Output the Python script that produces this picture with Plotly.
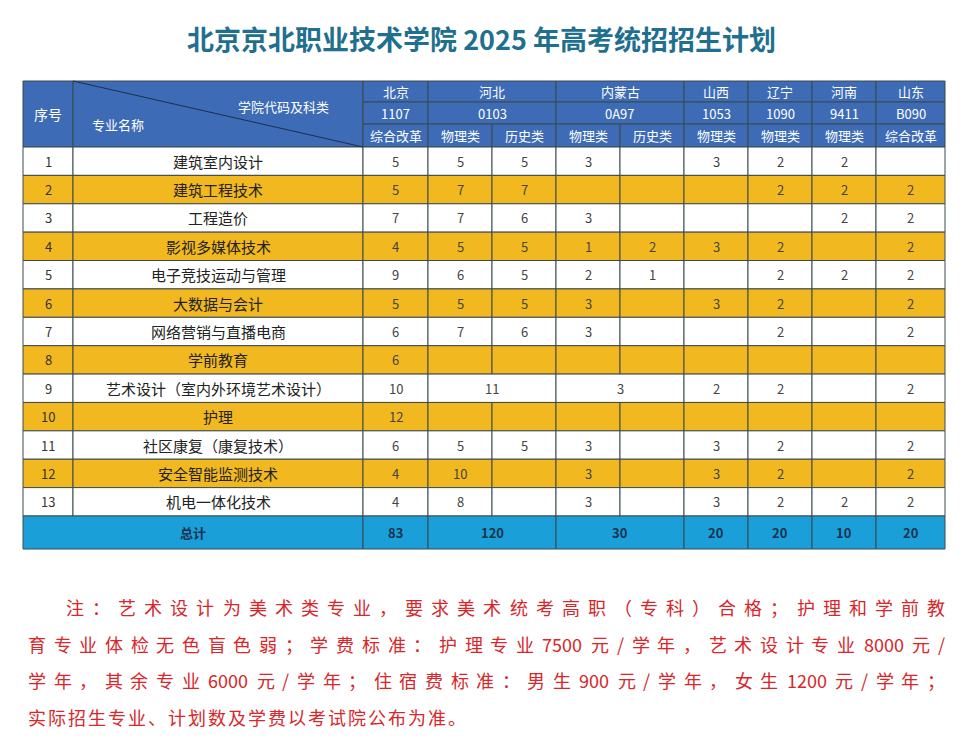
import plotly.graph_objects as go

title = "北京京北职业技术学院 2025 年高考统招招生计划"
provinces = ["北京", "河北", "内蒙古", "山西", "辽宁", "河南", "山东"]
codes = ["1107", "0103", "0A97", "1053", "1090", "9411", "B090"]
prov_spans = [1, 2, 2, 1, 1, 1, 1]
subjects = ["综合改革", "物理类", "历史类", "物理类", "历史类", "物理类", "物理类", "物理类", "综合改革"]
majors = ["建筑室内设计", "建筑工程技术", "工程造价", "影视多媒体技术", "电子竞技运动与管理",
          "大数据与会计", "网络营销与直播电商", "学前教育", "艺术设计（室内外环境艺术设计）",
          "护理", "社区康复（康复技术）", "安全智能监测技术", "机电一体化技术"]
values = [
    ["5", "5", "5", "3", "", "3", "2", "2", ""],
    ["5", "7", "7", "", "", "", "2", "2", "2"],
    ["7", "7", "6", "3", "", "", "", "2", "2"],
    ["4", "5", "5", "1", "2", "3", "2", "", "2"],
    ["9", "6", "5", "2", "1", "", "2", "2", "2"],
    ["5", "5", "5", "3", "", "3", "2", "", "2"],
    ["6", "7", "6", "3", "", "", "2", "", "2"],
    ["6", "", "", "", "", "", "", "", ""],
    ["10", "11", None, "3", None, "2", "2", "", "2"],
    ["12", "", "", "", "", "", "", "", ""],
    ["6", "5", "5", "3", "", "3", "2", "", "2"],
    ["4", "10", "", "3", "", "3", "2", "", "2"],
    ["4", "8", "", "3", "", "3", "2", "2", "2"],
]
totals = ["83", "120", None, "30", None, "20", "20", "10", "20"]
note_lines = [
    "注： 艺术设计为美术类专业， 要求美术统考高职 （专科） 合格； 护理和学前教",
    "育专业体检无色盲色弱； 学费标准： 护理专业 7500 元 / 学年， 艺术设计专业 8000 元 /",
    "学年， 其余专业 6000 元 / 学年；住宿费标准：男生 900 元 / 学年， 女生 1200 元 / 学年；",
    "实际招生专业、 计划数及学费以考试院公布为准。",
]

W, H = 969, 755
OFF = 8  # page body margin compensation
xb = [23, 73, 363, 428, 492, 556, 620, 684, 748, 812, 876, 945]
hy = [81, 102, 124, 147]
rh = (516 - 147) / 13
FONT = "Noto Sans CJK SC"
HEAD, ORANGE, TOT, BORDER = "#3d6bb5", "#f2b81f", "#1a9fd9", "#3a4a50"

fig = go.Figure()
shapes, ann = [], []

def cell(x0, x1, y0, y1, fill, text=None, color="#222", size=14, bold=False):
    shapes.append(dict(type="rect", x0=x0, x1=x1, y0=y0, y1=y1, fillcolor=fill,
                       line=dict(color=BORDER, width=1), layer="below"))
    if text:
        ann.append(dict(x=(x0 + x1) / 2, y=(y0 + y1) / 2, text=("<b>%s</b>" % text) if bold else text,
                        showarrow=False, font=dict(family=FONT, size=size, color=color)))

cell(xb[0], xb[1], hy[0], hy[3], HEAD, "序号", "white", 14)
cell(xb[1], xb[2], hy[0], hy[3], HEAD)
shapes.append(dict(type="line", x0=xb[1], y0=hy[0], x1=xb[2], y1=hy[3], line=dict(color="#1c2e50", width=1)))
ann.append(dict(x=283, y=106, text="学院代码及科类", showarrow=False, font=dict(family=FONT, size=13, color="white")))
ann.append(dict(x=118, y=124, text="专业名称", showarrow=False, font=dict(family=FONT, size=13, color="white")))
c = 2
for p, cd, sp in zip(provinces, codes, prov_spans):
    cell(xb[c], xb[c + sp], hy[0], hy[1], HEAD, p, "white", 13)
    cell(xb[c], xb[c + sp], hy[1], hy[2], HEAD, cd, "white", 13)
    c += sp
for i, s in enumerate(subjects):
    cell(xb[2 + i], xb[3 + i], hy[2], hy[3], HEAD, s, "white", 13)

def row(y0, y1, fill, cells_vals, color, size, bold):
    i = 0
    while i < len(cells_vals):
        span = 1
        while i + span < len(cells_vals) and cells_vals[i + span] is None:
            span += 1
        cell(xb[2 + i], xb[2 + i + span], y0, y1, fill, cells_vals[i], color, size, bold)
        i += span

for r, (m, vals) in enumerate(zip(majors, values)):
    y0, y1 = 147 + r * rh, 147 + (r + 1) * rh
    fill = ORANGE if r % 2 else "white"
    cell(xb[0], xb[1], y0, y1, fill, str(r + 1), "#333", 13)
    cell(xb[1], xb[2], y0, y1, fill, m, "#222", 15)
    row(y0, y1, fill, vals, "#444", 13, False)

cell(xb[0], xb[2], 516, 549, TOT, "总计", "#1b3350", 13, True)
row(516, 549, TOT, totals, "#1b3350", 13, True)

ann.append(dict(x=W / 2 - 3, y=38, text="<b>%s</b>" % title, showarrow=False,
                font=dict(family=FONT, size=27, color="#1f6f8f")))

# justified note text: tokens spread between start and end
NS = 18
def tokens(line):
    out, buf = [], ""
    for ch in line:
        if ch.isascii() and ch.isalnum():
            buf += ch
            continue
        if buf:
            out.append(buf); buf = ""
        if ch != " ":
            out.append(ch)
    if buf:
        out.append(buf)
    return out

def tw(t):
    if t.isascii():
        return 0.58 * NS * len(t) if t != "/" else 0.4 * NS
    return NS

for k, line in enumerate(note_lines):
    y = 607 + k * 36.7
    toks = tokens(line)
    start = 66 if k == 0 else 28
    end = 945
    widths = [tw(t) for t in toks]
    if k < len(note_lines) - 1:
        gap = (end - start - sum(widths)) / (len(toks) - 1)
    else:
        gap = 2
    x = start
    for t, w in zip(toks, widths):
        ann.append(dict(x=x + w / 2, y=y, text=t, showarrow=False,
                        font=dict(family=FONT, size=NS, color="#d8262a")))
        x += w + gap

fig.update_layout(width=W, height=H, margin=dict(l=0, r=0, t=0, b=0),
                  paper_bgcolor="white", plot_bgcolor="white", shapes=shapes, annotations=ann,
                  xaxis=dict(range=[OFF, W + OFF], visible=False, fixedrange=True),
                  yaxis=dict(range=[H + OFF, OFF], visible=False, fixedrange=True), showlegend=False)
fig.write_html("out.html", config={"displayModeBar": False})
